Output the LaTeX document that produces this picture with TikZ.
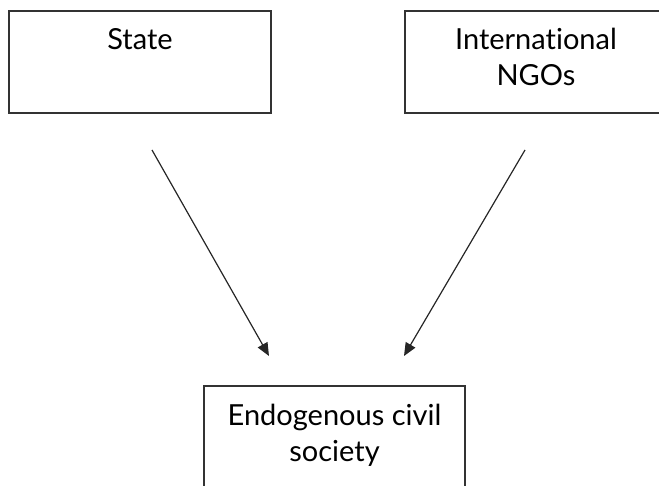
\documentclass[tikz,border=0pt]{standalone}
\usepackage{fontspec}
\setmainfont{Lato}[Ligatures=NoCommon]
\usetikzlibrary{positioning,arrows.meta}
\tikzset{
  actor/.style={draw=black!80, line width=1pt, minimum width=131pt, minimum height=51pt, inner sep=0pt, anchor=north west},
  caption/.style={align=center, inner sep=0pt, font=\fontsize{14.5}{18}\selectfont},
  link/.style={-{Triangle[length=6.5pt,width=5.5pt]}, draw=black!85, line width=0.6pt}
}
\begin{document}
\begin{tikzpicture}
\useasboundingbox (0,0) rectangle (329.5pt,-243pt);
\clip (0,0) rectangle (329.5pt,-243pt);
% the three boxes
\node [actor] (state) at (4pt,-5pt) {};
\node [actor] (ngo) at (202pt,-5pt) {};
\node [actor, minimum width=130.5pt, minimum height=60pt] (civil) at (101.5pt,-192.5pt) {};
\node [caption, below=9pt of state.north] (statetxt) {State};
\node [caption, below=9pt of ngo.north] (ngotxt) {International\\NGOs};
\node [caption, below=9.5pt of civil.north] (civiltxt) {Endogenous civil\\society};
% free arrow ends
\coordinate (stateout) at (76pt,-75pt);
\coordinate (civilleft) at (134.5pt,-178pt);
\coordinate (ngoout) at (262.5pt,-75pt);
\coordinate (civilright) at (202pt,-178pt);
\draw [link] (stateout) -- (civilleft);
\draw [link] (ngoout) -- (civilright);
\end{tikzpicture}
\end{document}
